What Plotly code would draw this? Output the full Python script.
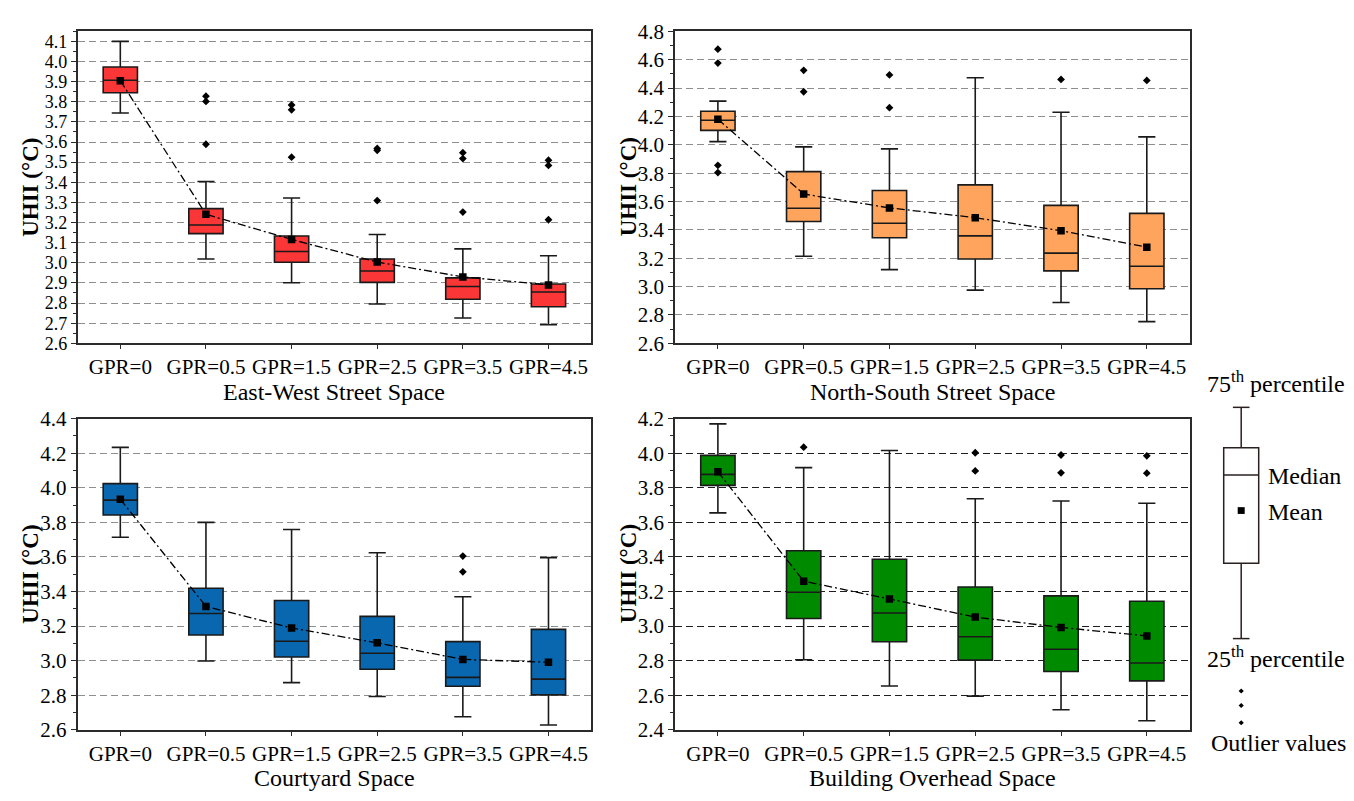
import plotly.graph_objects as go

W, H = 1354, 801

categories = ["GPR=0", "GPR=0.5", "GPR=1.5", "GPR=2.5", "GPR=3.5", "GPR=4.5"]

# East-West Street Space
ew_upper = [4.10, 3.404, 3.322, 3.141, 3.069, 3.035]
ew_q3 = [3.973, 3.269, 3.133, 3.019, 2.925, 2.895]
ew_median = [3.907, 3.188, 3.056, 2.959, 2.882, 2.855]
ew_q1 = [3.845, 3.145, 3.003, 2.903, 2.819, 2.782]
ew_lower = [3.744, 3.019, 2.901, 2.795, 2.726, 2.692]
ew_mean = [3.905, 3.241, 3.116, 3.004, 2.930, 2.890]
ew_out_x = ["GPR=0.5", "GPR=0.5", "GPR=0.5", "GPR=1.5", "GPR=1.5", "GPR=1.5",
            "GPR=2.5", "GPR=2.5", "GPR=2.5", "GPR=3.5", "GPR=3.5", "GPR=3.5",
            "GPR=4.5", "GPR=4.5", "GPR=4.5"]
ew_out_y = [3.828, 3.802, 3.589, 3.784, 3.760, 3.525, 3.568, 3.559, 3.309,
            3.547, 3.518, 3.252, 3.510, 3.484, 3.214]

# North-South Street Space
ns_upper = [4.308, 3.985, 3.971, 4.473, 4.230, 4.056]
ns_q3 = [4.237, 3.811, 3.678, 3.717, 3.573, 3.516]
ns_median = [4.173, 3.552, 3.447, 3.358, 3.236, 3.143]
ns_q1 = [4.102, 3.459, 3.344, 3.195, 3.111, 2.985]
ns_lower = [4.022, 3.214, 3.120, 2.975, 2.888, 2.753]
ns_mean = [4.180, 3.653, 3.555, 3.486, 3.394, 3.278]
ns_out_x = ["GPR=0", "GPR=0", "GPR=0", "GPR=0", "GPR=0.5", "GPR=0.5",
            "GPR=1.5", "GPR=1.5", "GPR=3.5", "GPR=4.5"]
ns_out_y = [4.674, 4.576, 3.855, 3.804, 4.525, 4.374, 4.493, 4.262, 4.461, 4.454]

# Courtyard Space
cy_upper = [4.234, 3.800, 3.759, 3.624, 3.370, 3.596]
cy_q3 = [4.024, 3.419, 3.348, 3.256, 3.110, 3.181]
cy_median = [3.929, 3.273, 3.112, 3.043, 2.903, 2.893]
cy_q1 = [3.843, 3.148, 3.021, 2.950, 2.852, 2.802]
cy_lower = [3.714, 2.998, 2.873, 2.793, 2.675, 2.628]
cy_mean = [3.934, 3.314, 3.189, 3.103, 3.007, 2.991]
cy_out_x = ["GPR=3.5", "GPR=3.5"]
cy_out_y = [3.605, 3.514]

# Building Overhead Space
bo_upper = [4.170, 3.917, 4.016, 3.737, 3.724, 3.711]
bo_q3 = [3.988, 3.436, 3.387, 3.226, 3.175, 3.144]
bo_median = [3.878, 3.196, 3.076, 2.938, 2.866, 2.786]
bo_q1 = [3.814, 3.044, 2.909, 2.803, 2.737, 2.683]
bo_lower = [3.655, 2.805, 2.653, 2.595, 2.516, 2.452]
bo_mean = [3.893, 3.260, 3.157, 3.052, 2.992, 2.943]
bo_out_x = ["GPR=0.5", "GPR=2.5", "GPR=2.5", "GPR=3.5", "GPR=3.5", "GPR=4.5", "GPR=4.5"]
bo_out_y = [4.035, 4.003, 3.898, 3.990, 3.887, 3.985, 3.885]

panel_titles = ["East-West Street Space", "North-South Street Space",
                "Courtyard Space", "Building Overhead Space"]
y_title = "UHII (°C)"

FONT = "Liberation Serif"
AX = "#2b2b2b"

panels = [
    dict(upper=ew_upper, q3=ew_q3, med=ew_median, q1=ew_q1, lower=ew_lower, mean=ew_mean,
         ox=ew_out_x, oy=ew_out_y, color="#FB3636", rng=[2.6, 4.15], dtick=0.1, t0=2.6,
         grid="#8e8e8e", px=(69.5, 583.3), py=(11.7, 333.3), yfs=18),
    dict(upper=ns_upper, q3=ns_q3, med=ns_median, q1=ns_q1, lower=ns_lower, mean=ns_mean,
         ox=ns_out_x, oy=ns_out_y, color="#FFA45C", rng=[2.6, 4.8], dtick=0.2, t0=2.6,
         grid="#8e8e8e", px=(667.0, 1181.7), py=(11.7, 333.3), yfs=21),
    dict(upper=cy_upper, q3=cy_q3, med=cy_median, q1=cy_q1, lower=cy_lower, mean=cy_mean,
         ox=cy_out_x, oy=cy_out_y, color="#0867AF", rng=[2.6, 4.4], dtick=0.2, t0=2.6,
         grid="#8e8e8e", px=(69.5, 583.3), py=(411.0, 731.7), yfs=21),
    dict(upper=bo_upper, q3=bo_q3, med=bo_median, q1=bo_q1, lower=bo_lower, mean=bo_mean,
         ox=bo_out_x, oy=bo_out_y, color="#008A00", rng=[2.4, 4.2], dtick=0.2, t0=2.4,
         grid="#1e1e1e", px=(667.0, 1181.7), py=(411.0, 731.7), yfs=21),
]


def fx(x):
    return x / W


def fy(y):
    return 1 - y / H


fig = go.Figure()
annotations = []
shapes = []
layout_axes = {}

for i, p in enumerate(panels):
    n = i + 1
    xa = "x" if n == 1 else f"x{n}"
    ya = "y" if n == 1 else f"y{n}"
    fig.add_trace(go.Box(
        x=categories, q1=p["q1"], median=p["med"], q3=p["q3"],
        lowerfence=p["lower"], upperfence=p["upper"],
        fillcolor=p["color"], line=dict(color="#1a1a1a", width=1.6),
        width=0.4, whiskerwidth=0.5, boxpoints=False, showlegend=False,
        xaxis=xa, yaxis=ya,
    ))
    fig.add_trace(go.Scatter(
        x=categories, y=p["mean"], mode="lines+markers",
        line=dict(color="black", width=1.3, dash="8px,3px,2px,3px"),
        marker=dict(symbol="square", size=7.5, color="black"),
        showlegend=False, xaxis=xa, yaxis=ya,
    ))
    fig.add_trace(go.Scatter(
        x=p["ox"], y=p["oy"], mode="markers",
        marker=dict(symbol="diamond", size=6, color="black"),
        showlegend=False, xaxis=xa, yaxis=ya,
    ))
    xkey = "xaxis" if n == 1 else f"xaxis{n}"
    ykey = "yaxis" if n == 1 else f"yaxis{n}"
    layout_axes[xkey] = dict(
        domain=[fx(p["px"][0]), fx(p["px"][1])], anchor=ya,
        type="category", categoryorder="array", categoryarray=categories,
        range=[-0.5, 5.5], showgrid=False, zeroline=False,
        showline=True, linecolor=AX, linewidth=1.5, mirror=True,
        ticks="outside", ticklen=4, tickcolor=AX, tickwidth=1.2,
        tickfont=dict(family=FONT, size=21, color="black"),
    )
    layout_axes[ykey] = dict(
        domain=[fy(p["py"][1]), fy(p["py"][0])], anchor=xa,
        range=p["rng"], tick0=p["t0"], dtick=p["dtick"], tickformat=".1f",
        showgrid=True, gridcolor=p["grid"], gridwidth=1.2, griddash="7px,4px",
        zeroline=False, showline=True, linecolor=AX, linewidth=1.5, mirror=True,
        ticks="outside", ticklen=5, tickcolor=AX, tickwidth=1.2,
        minor=dict(ticks="outside", ticklen=3, tickcolor=AX, tick0=p["t0"],
                   dtick=p["dtick"] / 2, showgrid=False),
        tickfont=dict(family=FONT, size=p["yfs"], color="black"),
    )
    # axis titles
    annotations.append(dict(
        text=panel_titles[i], xref="paper", yref="paper",
        x=fx((p["px"][0] + p["px"][1]) / 2), y=fy(p["py"][1] + 50),
        xanchor="center", yanchor="middle", showarrow=False,
        font=dict(family=FONT, size=24, color="black"),
    ))
    annotations.append(dict(
        text="<b>" + y_title + "</b>", xref="paper", yref="paper",
        x=fx(p["px"][0] - 47), y=fy((p["py"][0] + p["py"][1]) / 2),
        xanchor="center", yanchor="middle", textangle=-90, showarrow=False,
        font=dict(family=FONT, size=23, color="black"),
    ))

# key diagram on the right
LC = "#2a2020"
bx0, bx1 = 1215.7, 1250.7
bcx = (bx0 + bx1) / 2
shapes += [
    dict(type="rect", xref="paper", yref="paper", x0=fx(bx0), x1=fx(bx1),
         y0=fy(560), y1=fy(441), line=dict(color=LC, width=1.5), fillcolor="white"),
    dict(type="line", xref="paper", yref="paper", x0=fx(bx0), x1=fx(bx1),
         y0=fy(469), y1=fy(469), line=dict(color=LC, width=1.5)),
    dict(type="line", xref="paper", yref="paper", x0=fx(bcx), x1=fx(bcx),
         y0=fy(441), y1=fy(399.3), line=dict(color=LC, width=1.5)),
    dict(type="line", xref="paper", yref="paper", x0=fx(bcx), x1=fx(bcx),
         y0=fy(560), y1=fy(637.7), line=dict(color=LC, width=1.5)),
    dict(type="line", xref="paper", yref="paper", x0=fx(bcx - 8.3), x1=fx(bcx + 8.3),
         y0=fy(399.3), y1=fy(399.3), line=dict(color=LC, width=1.5)),
    dict(type="line", xref="paper", yref="paper", x0=fx(bcx - 8.3), x1=fx(bcx + 8.3),
         y0=fy(637.7), y1=fy(637.7), line=dict(color=LC, width=1.5)),
    dict(type="rect", xref="paper", yref="paper", x0=fx(bcx - 3.5), x1=fx(bcx + 3.5),
         y0=fy(509.2), y1=fy(502.2), line=dict(width=0), fillcolor="black"),
]
for dy in (691.7, 706.7, 724.5):
    d = 2.6
    shapes.append(dict(
        type="path", xref="paper", yref="paper",
        path=(f"M {fx(bcx)},{fy(dy - d)} L {fx(bcx + d)},{fy(dy)} "
              f"L {fx(bcx)},{fy(dy + d)} L {fx(bcx - d)},{fy(dy)} Z"),
        line=dict(width=0), fillcolor="black"))

key_font = dict(family=FONT, size=24, color="black")
for txt, x, y, xa in [
    ("75<sup>th</sup> percentile", 1268, 373, "center"),
    ("Median", 1258, 470, "left"),
    ("Mean", 1258, 506.7, "left"),
    ("25<sup>th</sup> percentile", 1268, 656.7, "center"),
    ("Outlier values", 1270.5, 745, "center"),
]:
    annotations.append(dict(text=txt, xref="paper", yref="paper", x=fx(x), y=fy(y),
                            xanchor=xa, yanchor="middle", showarrow=False, font=key_font))

fig.update_layout(
    width=W, height=H, margin=dict(l=0, r=0, t=0, b=0),
    paper_bgcolor="white", plot_bgcolor="white",
    font=dict(family=FONT, color="black"),
    showlegend=False, annotations=annotations, shapes=shapes,
    **layout_axes,
)

fig.write_html("out.html")
